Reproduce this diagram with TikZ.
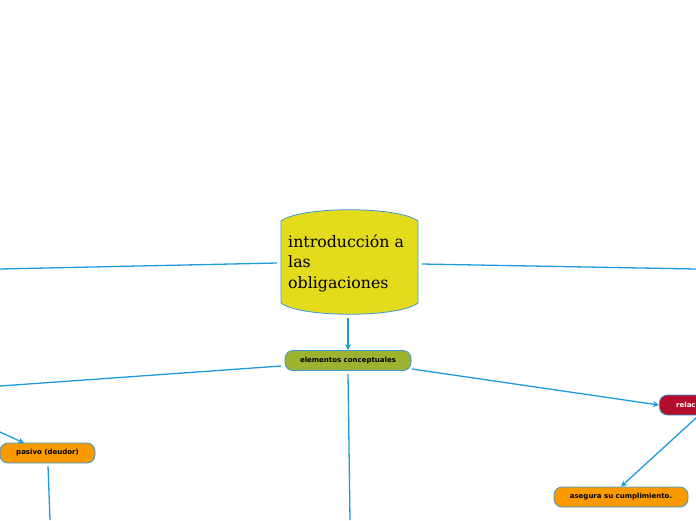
\documentclass[tikz,border=0pt]{standalone}
\usepackage{fontspec}
\setmainfont{DejaVu Serif}
\newfontfamily\smallsans{DejaVu Sans}
\usetikzlibrary{arrows.meta}
\definecolor{linkblue}{HTML}{1E9BE0}
\definecolor{mainyellow}{HTML}{E5DB1D}
\definecolor{olivegreen}{HTML}{9CB32F}
\definecolor{topicorange}{HTML}{FB9A00}
\definecolor{crimson}{HTML}{B20E2C}
\definecolor{nodeborder}{HTML}{3A9AD9}
\tikzset{
  link/.style={draw=linkblue, line width=1.3pt},
  arrowlink/.style={link, -{Stealth[length=6pt,width=6pt]}},
  pill/.style={rounded corners=8pt, draw=nodeborder, line width=0.8pt, minimum height=20pt, inner sep=0pt, font=\smallsans\bfseries\fontsize{7}{8}\selectfont},
}
\begin{document}
\begin{tikzpicture}[x=1pt,y=-1pt]
\useasboundingbox (0,0) rectangle (696,520);
\clip (0,0) rectangle (696,520);
% central node
\draw[fill=mainyellow, draw=nodeborder, line width=0.8pt]
  (281,221) .. controls (300,206) and (399,206) .. (418,221)
  -- (418,303) .. controls (399,318) and (300,318) .. (281,303) -- cycle;
\node[anchor=west, align=left, inner sep=0pt, font=\fontsize{15.8}{20.5}\selectfont] (intro) at (288,263) {introducción a\\las\\obligaciones};
\coordinate (introW) at (277,263);
\coordinate (introE) at (422,264);
\coordinate (introS) at (348,318);
\coordinate (farL) at (0,269);
\coordinate (farR) at (696,269);
% second level
\node[pill, fill=olivegreen, minimum width=126pt] (elem) at (348,360.5) {elementos conceptuales};
\node[pill, fill=crimson, minimum width=90pt, text=white, anchor=west] (relac) at (659,405) {\hspace*{15pt}relac\hspace*{52pt}};
\node[pill, fill=topicorange, minimum width=134pt] (aseg) at (621,497) {asegura su cumplimiento.};
\node[pill, fill=topicorange, minimum width=95pt] (pasivo) at (47.5,453) {pasivo (deudor)};
\coordinate (elemL) at (281,366);
\coordinate (elemS) at (348,374);
\coordinate (elemE) at (412,369);
\coordinate (leftEnd) at (0,386);
\coordinate (downEnd) at (350,520);
\coordinate (relacS) at (697,417);
\coordinate (pasIn) at (0,432);
\coordinate (pasTop) at (24,443);
\coordinate (pasS) at (48,466);
\coordinate (pasEnd) at (50,520);
% connectors
\draw[link] (introW) -- (farL);
\draw[link] (introE) -- (farR);
\draw[arrowlink] (introS) -- (elem.north);
\draw[link] (elemL) -- (leftEnd);
\draw[link] (elemS) -- (downEnd);
\draw[arrowlink] (elemE) -- (relac.west);
\draw[arrowlink] (relacS) -- (aseg.north);
\draw[arrowlink] (pasIn) -- (pasTop);
\draw[link] (pasS) -- (pasEnd);
\end{tikzpicture}
\end{document}
